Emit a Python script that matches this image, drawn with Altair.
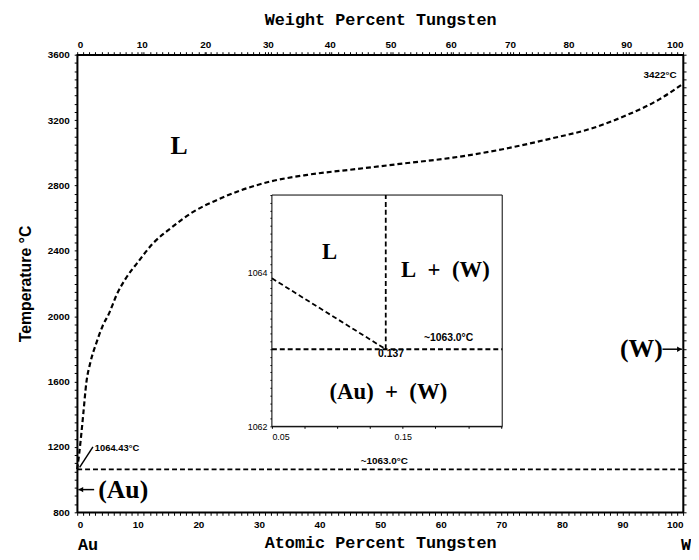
import altair as alt
import pandas as pd

# ---------------- data ----------------
# Liquidus, main panel (atomic % W, temperature °C)
liq_x = [0, 0.3, 0.6, 1.0, 1.5, 2.2, 3.2, 4.2, 5.3, 6.5, 8, 10, 12.5, 15.5, 19, 23, 27,
         32, 38, 46, 54, 62, 70, 78, 85, 91, 96, 100]
liq_t = [1064, 1150, 1250, 1400, 1590, 1720, 1840, 1940, 2020, 2130, 2230, 2330, 2445,
         2540, 2635, 2710, 2770, 2825, 2865, 2900, 2935, 2970, 3020, 3085, 3150, 3235,
         3325, 3422]
# Eutectic/peritectic horizontal
sol_x = [0, 100]
sol_t = [1063, 1063]

# Inset
ins_liq_x = [0.05, 0.137]
ins_liq_t = [1063.92, 1063.0]
ins_vert_x = [0.137, 0.137]
ins_vert_t = [1063.0, 1065.0]
ins_hor_x = [0.05, 0.226]
ins_hor_t = [1063.0, 1063.0]

# Axis ticks / labels
bottom_ticks = list(range(0, 101))
left_ticks = list(range(800, 3601, 50))
top_wt_labels = ["0", "10", "20", "30", "40", "50", "60", "70", "80", "90", "100"]
top_at_pos = [0, 10.64, 21.13, 31.47, 41.67, 51.72, 61.64, 71.43, 81.08, 90.60, 100]
ins_y_ticks = [round(1062 + 0.1 * i, 1) for i in range(31)]
ins_x_ticks = [0.05, 0.075, 0.1, 0.125, 0.15, 0.175, 0.2, 0.225]

# Text annotations
phase_text = ["L", "(Au)", "(W)"]
phase_x = [16.8, 7.6, 93.1]
phase_t = [3040, 939, 1798]

note_c_text = ["3422°C", "~1063.0°C"]
note_c_x = [96.2, 50.7]
note_c_t = [3474, 1112]

note_l_text = ["1064.43°C"]
note_l_x = [2.9]
note_l_t = [1193]

pointer_x = [0.4, 2.6, 0.2, 2.8, 96.6, 99.8]
pointer_t = [1075, 1200, 939, 939, 1798, 1798]
pointer_id = ["a", "a", "b", "b", "c", "c"]

arrow_x = [0.6, 99.4]
arrow_t = [939, 1798]
arrow_shape = ["triangle-left", "triangle-right"]

end_text = ["Au", "W"]
end_x = [0, 100]
end_dx = [11, 3]

NB = "\u00a0"
ins_big_text = ["L", f"L{NB*2}+{NB*2}(W)", f"(Au){NB*2}+{NB*2}(W)"]
ins_big_x = [0.094, 0.1826, 0.139]
ins_big_t = [1064.26, 1064.03, 1062.45]

ins_small_text = ["~1063.0°C", "0.137"]
ins_small_x = [0.185, 0.141]
ins_small_t = [1063.14, 1062.94]

# ---------------- scales ----------------
W, H = 613, 463
XS = alt.Scale(domain=[0, 100], nice=False, zero=False)
YS = alt.Scale(domain=[800, 3600], nice=False, zero=False)
IXS = alt.Scale(domain=[0.05, 0.226], range=[197, 430], nice=False, zero=False)
IYS = alt.Scale(domain=[1062, 1065], range=[376, 142], nice=False, zero=False)

LBL = dict(labelFont="Liberation Sans", labelFontWeight="bold", labelFontSize=10,
           labelColor="black", tickColor="black", domainColor="black", grid=False)

bottom_axis = alt.Axis(orient="bottom", values=bottom_ticks, tickSize=3,
                       labelExpr="datum.value % 10 == 0 ? datum.label : ''",
                       labelPadding=4, title="Atomic Percent Tungsten",
                       titleFont="Liberation Mono", titleFontSize=17, titleFontWeight="bold",
                       titleColor="black", titlePadding=6, domainWidth=1.5, format="d", **LBL)
left_axis = alt.Axis(orient="left", values=left_ticks, tickSize=3,
                     labelExpr="datum.value % 400 == 0 ? datum.label : ''",
                     labelPadding=5, title="Temperature °C",
                     titleFont="Liberation Sans", titleFontSize=16, titleFontWeight="bold",
                     titleColor="black", titlePadding=14, domainWidth=1.5, format="d", **LBL)

pos_js = "[" + ",".join(str(v) for v in top_at_pos) + "]"
lab_js = "[" + ",".join("'" + s + "'" for s in top_wt_labels) + "]"
top_vals = sorted(set(bottom_ticks) | set(top_at_pos))
top_axis = alt.Axis(orient="top", values=top_vals, tickSize=3,
                    labelExpr=f"indexof({pos_js}, datum.value) >= 0 ? {lab_js}[indexof({pos_js}, datum.value)] : ''",
                    labelPadding=2, title="Weight Percent Tungsten",
                    titleFont="Liberation Mono", titleFontSize=17, titleFontWeight="bold",
                    titleColor="black", titlePadding=12, domainWidth=1.5, **LBL)
right_axis = alt.Axis(orient="right", values=left_ticks, tickSize=3, labels=False,
                      title=None, domainWidth=1.5, tickColor="black", domainColor="black",
                      grid=False)

ins_left_axis = alt.Axis(orient="left", values=ins_y_ticks, tickSize=2, offset=-197,
                         labelExpr="datum.value == 1064 || datum.value == 1062 ? datum.label : ''",
                         format=".0f", labelFont="Liberation Sans", labelFontSize=9,
                         labelColor="black", tickColor="black", domainColor="black",
                         domainWidth=1, labelPadding=3, title=None, grid=False)
ins_bottom_axis = alt.Axis(orient="bottom", values=ins_x_ticks, tickSize=2, offset=-87,
                           labelExpr="datum.value == 0.05 || datum.value == 0.15 ? datum.label : ''",
                           format=".2f", labelFont="Liberation Sans", labelFontSize=9,
                           labelColor="black", tickColor="black", domainColor="black",
                           domainWidth=1, labelPadding=4, title=None, grid=False)


def mx(axis=None):
    return alt.X("x:Q", scale=XS, axis=axis)


def my(axis=None):
    return alt.Y("t:Q", scale=YS, axis=axis)


def ix(axis=None):
    return alt.X("x:Q", scale=IXS, axis=axis)


def iy(axis=None):
    return alt.Y("t:Q", scale=IYS, axis=axis)


DASH = [5, 3]

# ---------------- main layers ----------------
liquidus = alt.Chart(pd.DataFrame({"x": liq_x, "t": liq_t})).mark_line(
    color="black", strokeWidth=2.2, strokeDash=DASH, interpolate="monotone").encode(
    x=mx(bottom_axis), y=my(left_axis), order="x:Q")

solidus = alt.Chart(pd.DataFrame({"x": sol_x, "t": sol_t})).mark_line(
    color="black", strokeWidth=1.8, strokeDash=DASH).encode(x=mx(), y=my())

pointers = alt.Chart(pd.DataFrame({"x": pointer_x, "t": pointer_t, "g": pointer_id})).mark_line(
    color="black", strokeWidth=1.5).encode(x=mx(), y=my(), detail="g:N")

arrows = alt.Chart(pd.DataFrame({"x": arrow_x, "t": arrow_t, "s": arrow_shape})).mark_point(
    color="black", filled=True, size=30, opacity=1).encode(
    x=mx(), y=my(), shape=alt.Shape("s:N", scale=None, legend=None))

phase = alt.Chart(pd.DataFrame({"x": phase_x, "t": phase_t, "label": phase_text})).mark_text(
    font="Liberation Serif", fontSize=26, fontWeight="bold", color="black").encode(
    x=mx(), y=my(), text="label:N")

notes_c = alt.Chart(pd.DataFrame({"x": note_c_x, "t": note_c_t, "label": note_c_text})).mark_text(
    font="Liberation Sans", fontSize=10, fontWeight="bold", color="black").encode(
    x=mx(), y=my(), text="label:N")

notes_l = alt.Chart(pd.DataFrame({"x": note_l_x, "t": note_l_t, "label": note_l_text})).mark_text(
    font="Liberation Sans", fontSize=9.5, fontWeight="bold", color="black", align="left").encode(
    x=mx(), y=my(), text="label:N")

ends_au = alt.Chart(pd.DataFrame({"x": [end_x[0]], "t": [800], "label": [end_text[0]]})).mark_text(
    font="Liberation Mono", fontSize=17, fontWeight="bold", color="black", dy=33, dx=end_dx[0]).encode(
    x=mx(), y=my(), text="label:N")
ends_w = alt.Chart(pd.DataFrame({"x": [end_x[1]], "t": [800], "label": [end_text[1]]})).mark_text(
    font="Liberation Mono", fontSize=17, fontWeight="bold", color="black", dy=33, dx=end_dx[1]).encode(
    x=mx(), y=my(), text="label:N")

top_layer = alt.Chart(pd.DataFrame({"x": [0, 100]})).mark_point(opacity=0).encode(
    x=alt.X("x:Q", scale=XS, axis=top_axis))
right_layer = alt.Chart(pd.DataFrame({"t": [800, 3600]})).mark_point(opacity=0).encode(
    y=alt.Y("t:Q", scale=YS, axis=right_axis))

# ---------------- inset layers ----------------
ins_frame = alt.Chart(pd.DataFrame({"x": [0.05], "x2": [0.226], "t": [1062], "t2": [1065]})).mark_rect(
    fill="white", stroke="black", strokeWidth=1).encode(
    x=ix(ins_bottom_axis), x2="x2:Q", y=iy(ins_left_axis), y2="t2:Q")

ins_liq = alt.Chart(pd.DataFrame({"x": ins_liq_x, "t": ins_liq_t})).mark_line(
    color="black", strokeWidth=1.8, strokeDash=DASH).encode(x=ix(), y=iy())
ins_vert = alt.Chart(pd.DataFrame({"x": ins_vert_x, "t": ins_vert_t})).mark_line(
    color="black", strokeWidth=1.8, strokeDash=DASH).encode(x=ix(), y=iy())
ins_hor = alt.Chart(pd.DataFrame({"x": ins_hor_x, "t": ins_hor_t})).mark_line(
    color="black", strokeWidth=1.8, strokeDash=DASH).encode(x=ix(), y=iy())

ins_big = alt.Chart(pd.DataFrame({"x": ins_big_x, "t": ins_big_t, "label": ins_big_text})).mark_text(
    font="Liberation Serif", fontSize=23, fontWeight="bold", color="black").encode(
    x=ix(), y=iy(), text="label:N")
ins_small = alt.Chart(pd.DataFrame({"x": ins_small_x, "t": ins_small_t, "label": ins_small_text})).mark_text(
    font="Liberation Sans", fontSize=10.5, fontWeight="bold", color="black").encode(
    x=ix(), y=iy(), text="label:N")

chart = alt.layer(
    liquidus, solidus, pointers, arrows, phase, notes_c, notes_l, ends_au, ends_w,
    top_layer, right_layer,
    ins_frame, ins_liq, ins_vert, ins_hor, ins_big, ins_small,
).resolve_scale(x="independent", y="independent").properties(
    width=W, height=H,
    autosize=alt.AutoSizeParams(type="none"),
    padding={"left": 70, "top": 44, "right": 8, "bottom": 45},
).configure_view(stroke="black", strokeWidth=1.5)

chart.save("out.html", embed_options={"renderer": "svg", "actions": False})
